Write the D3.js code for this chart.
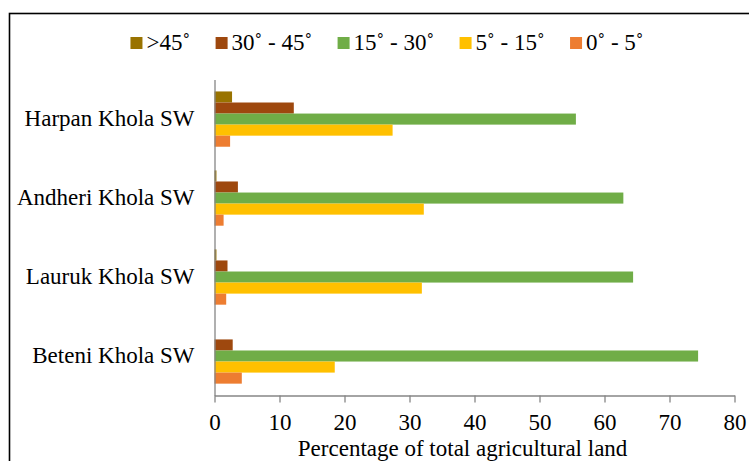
<!DOCTYPE html>
<html>
<head>
<meta charset="utf-8">
<script src="https://cdn.jsdelivr.net/npm/d3@7"></script>
<style>
  html, body { margin: 0; padding: 0; background: #fff; }
  svg { display: block; }
  svg text { font-family: "Liberation Serif", "Times New Roman", serif !important; }
</style>
</head>
<body>
<svg id="chart" width="749" height="461"></svg>
<script>
// ---- data ----
const categories = ["Harpan Khola SW", "Andheri Khola SW", "Lauruk Khola SW", "Beteni Khola SW"];
const seriesNames = [">45˚", "30˚ - 45˚", "15˚ - 30˚", "5˚ - 15˚", "0˚ - 5˚"];
const over45   = [2.7, 0.3, 0.3, 0.0];
const s30to45  = [12.2, 3.6, 2.0, 2.8];
const s15to30  = [55.6, 62.9, 64.4, 74.4];
const s5to15   = [27.4, 32.2, 31.9, 18.5];
const s0to5    = [2.4, 1.4, 1.8, 4.2];
const xTicks   = [0, 10, 20, 30, 40, 50, 60, 70, 80];
const xTitle   = "Percentage of total agricultural land";

const seriesValues = [over45, s30to45, s15to30, s5to15, s0to5];
const colors = ["#997300", "#9E480E", "#70AD47", "#FFC000", "#ED7D31"];

// ---- layout ----
const FONT = "Liberation Serif, Times New Roman, serif";
const svg = d3.select("#chart").attr("font-family", FONT);
const plot = { left: 214.5, right: 734.5, top: 79.6, bottom: 395.5 };
const axisColor = "#868686";

// frame
svg.append("rect")
  .attr("x", 9.5).attr("y", 13.5)
  .attr("width", 800).attr("height", 500)
  .attr("fill", "none").attr("stroke", "#000").attr("stroke-width", 1.6);

const x = d3.scaleLinear().domain([0, 80]).range([plot.left, plot.right]);
const y = d3.scaleBand().domain(categories).range([plot.top, plot.bottom])
  .paddingInner(0.3).paddingOuter(0.15);
const ySub = d3.scaleBand().domain(seriesNames).range([0, y.bandwidth()]);

// bars
const rows = [];
seriesNames.forEach((s, si) => {
  categories.forEach((c, ci) => {
    rows.push({ series: s, cat: c, value: seriesValues[si][ci], color: colors[si] });
  });
});
svg.append("g").selectAll("rect").data(rows).join("rect")
  .attr("x", x(0))
  .attr("y", d => y(d.cat) + ySub(d.series))
  .attr("width", d => x(d.value) - x(0))
  .attr("height", ySub.bandwidth())
  .attr("fill", d => d.color);

// x axis
const gx = svg.append("g").attr("transform", `translate(0,${plot.bottom})`)
  .call(d3.axisBottom(x).tickValues(xTicks).tickSize(7).tickSizeOuter(0).tickFormat(d3.format("d")));
gx.attr("font-family", FONT).attr("font-size", 23);
gx.select(".domain").attr("stroke", axisColor).attr("stroke-width", 1.3);
gx.selectAll(".tick line").attr("stroke", axisColor).attr("stroke-width", 1.3);
gx.selectAll(".tick text")
  .attr("dy", null).attr("y", 34)
  .attr("fill", "#000");

// y axis
const gy = svg.append("g").attr("transform", `translate(${plot.left},0)`)
  .call(d3.axisLeft(y).tickSize(0).tickPadding(20));
gy.attr("font-family", FONT).attr("font-size", 23);
gy.select(".domain").attr("stroke", axisColor).attr("stroke-width", 1.3);
gy.selectAll(".tick text").attr("fill", "#000");

// x title
svg.append("text")
  .attr("x", 462.6).attr("y", 456)
  .attr("text-anchor", "middle")
  .attr("font-family", FONT)
  .attr("font-size", 23)
  .attr("fill", "#000")
  .text(xTitle);

// legend
const legend = svg.append("g").attr("font-family", FONT).attr("font-size", 23);
const sq = 12, gapText = 4, gapItem = 25.5, legendBaseline = 50, legendCenter = 387;
const items = legend.selectAll("g").data(seriesNames).join("g");
items.append("rect")
  .attr("width", sq).attr("height", sq)
  .attr("y", legendBaseline - 13)
  .attr("fill", (d, i) => colors[i]);
items.append("text")
  .attr("x", sq + gapText).attr("y", legendBaseline)
  .attr("fill", "#000")
  .text(d => d);
let widths = [];
items.each(function() { widths.push(sq + gapText + d3.select(this).select("text").node().getComputedTextLength()); });
const total = d3.sum(widths) + gapItem * (widths.length - 1);
let cx = legendCenter - total / 2;
items.each(function(d, i) {
  d3.select(this).attr("transform", `translate(${cx},0)`);
  cx += widths[i] + gapItem;
});
</script>
</body>
</html>
